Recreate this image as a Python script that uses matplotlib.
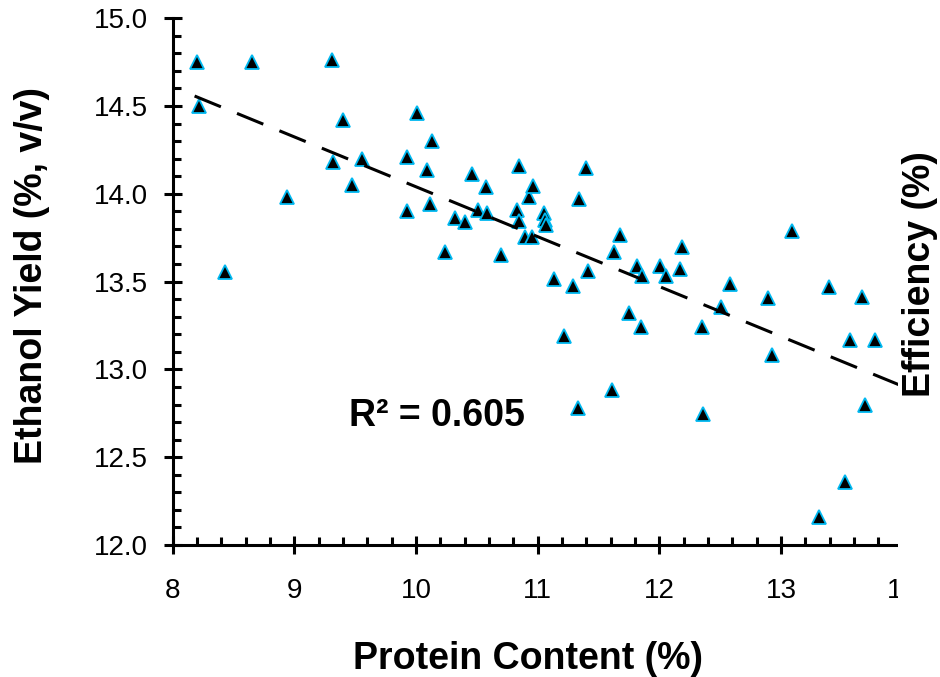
import numpy as np
import matplotlib
matplotlib.use('Agg')
import matplotlib.pyplot as plt
from matplotlib.patches import Rectangle

matplotlib.rcParams['font.family'] = ['Liberation Sans', 'DejaVu Sans']

protein = [8.20, 8.22, 8.43, 8.65, 8.94, 9.31, 9.32, 9.40, 9.47, 9.56,
           9.93, 9.93, 10.006, 10.09, 10.13, 10.115, 10.24, 10.32, 10.40, 10.46,
           10.51, 10.575, 10.586, 10.70, 10.83, 10.85, 10.85, 10.90, 10.95, 10.93,
           10.96, 11.05, 11.06, 11.07, 11.134, 11.215, 11.29, 11.33, 11.34, 11.40,
           11.41, 11.61, 11.63, 11.68, 11.75, 11.82, 11.855, 11.85, 12.006, 12.055,
           12.17, 12.19, 12.35, 12.36, 12.51, 12.58, 12.89, 12.93, 13.09, 13.31,
           13.395, 13.53, 13.57, 13.67, 13.69, 13.77]
ethanol = [14.75, 14.50, 13.556, 14.75, 13.98, 14.76, 14.18, 14.42, 14.05, 14.20,
           14.21, 13.90, 14.46, 14.135, 14.30, 13.94, 13.67, 13.86, 13.84, 14.11,
           13.91, 14.04, 13.89, 13.65, 13.91, 14.16, 13.845, 13.756, 13.756, 13.98,
           14.046, 13.89, 13.85, 13.82, 13.515, 13.19, 13.477, 12.778, 13.97, 14.145,
           13.56, 12.88, 13.67, 13.765, 13.32, 13.59, 13.53, 13.24, 13.59, 13.53,
           13.57, 13.695, 13.24, 12.746, 13.354, 13.486, 13.405, 13.08, 13.79, 12.16,
           13.47, 12.357, 13.17, 13.414, 12.80, 13.17]

trend_slope = -0.284
trend_intercept = 16.88
trend_x = [8.18, 14.0]
r2_text = 'R² = 0.605'

xticks = [8, 9, 10, 11, 12, 13, 14]
yticks = [12.0, 12.5, 13.0, 13.5, 14.0, 14.5, 15.0]

fig = plt.figure(figsize=(9.4, 6.77), dpi=100)
ax = fig.add_axes([172.7/940, 1-545/677, 729.9/940, 526.8/677])

ax.plot(protein, ethanol, linestyle='none', marker='^', markersize=9.5,
        markerfacecolor='black', markeredgecolor='#00B8F0', markeredgewidth=1.3,
        zorder=3, clip_on=False)

tx = np.array(trend_x)
ax.plot(tx, trend_intercept + trend_slope*tx, color='black', lw=2.2,
        dashes=(9.3, 5.7), zorder=4)

ax.set_xlim(8, 14)
ax.set_ylim(12, 15)
ax.set_xticks(xticks)
ax.set_xticklabels([str(t) for t in xticks])
ax.set_yticks(yticks)
ax.set_yticklabels(['%.1f' % t for t in yticks])
ax.set_xticks(np.arange(8, 14.01, 0.2), minor=True)
ax.set_yticks(np.arange(12, 15.01, 0.1), minor=True)

for s in ['top', 'right']:
    ax.spines[s].set_visible(False)
for s in ['left', 'bottom']:
    ax.spines[s].set_linewidth(2.2)

ax.tick_params(which='major', direction='inout', length=13, width=2.2,
               labelsize=20)
ax.tick_params(which='minor', direction='in', length=5.5, width=2.2)
ax.tick_params(axis='x', which='major', pad=17)
ax.tick_params(axis='y', which='major', pad=11.5)

# A imaxe orixinal esta recortada pola dereita
fig.patches.append(Rectangle((897.5/940, 0), 1, 1, transform=fig.transFigure,
                             facecolor='white', edgecolor='none', zorder=2))

fig.text(436.5/940, 1-426/677, r2_text, fontsize=27, fontweight='bold',
         ha='center', va='baseline')
fig.text(528/940, 1-669/677, 'Protein Content (%)', fontsize=27,
         fontweight='bold', ha='center', va='baseline')
fig.text(42/940, 1-276/677, 'Ethanol Yield (%, v/v)', fontsize=27,
         fontweight='bold', rotation=90, rotation_mode='anchor',
         ha='center', va='baseline')
fig.text(930/940, 1-274/677, 'Efficiency (%)', fontsize=27,
         fontweight='bold', rotation=90, rotation_mode='anchor',
         ha='center', va='baseline', zorder=5)

plt.savefig('out.png', dpi=100)
